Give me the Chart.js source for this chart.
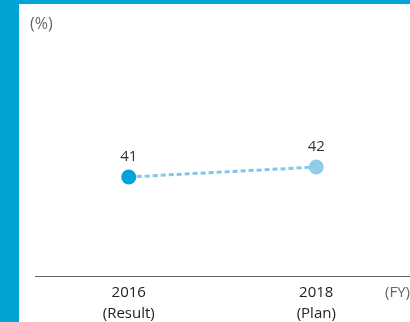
<!DOCTYPE html>
<html>
<head>
<meta charset="utf-8">
<script src="https://cdn.jsdelivr.net/npm/chart.js@4"></script>
<style>
  html, body { margin: 0; padding: 0; }
  body { width: 410px; height: 322px; background: #00A5D6; position: relative; overflow: hidden; }
  #wrap { position: absolute; left: 19px; top: 4px; width: 391px; height: 318px; background: #fff; overflow: hidden; }
</style>
</head>
<body>
<div id="wrap"><canvas id="myChart" width="391" height="326"></canvas></div>
<script>
const categories = [["2016", "(Result)"], ["2018", "(Plan)"]];
const values = [41, 42];
const pointColors = ["#00A2D7", "#8FCDEB"];
const unitLabel = "(%)";
const axisUnit = "(FY)";

// labels above points + unit texts
const textPlugin = {
  id: "texts",
  afterDatasetsDraw(chart) {
    const ctx = chart.ctx;
    const meta = chart.getDatasetMeta(0);
    ctx.save();
    ctx.font = "15px 'Open Sans', sans-serif";
    ctx.fillStyle = "#333";
    ctx.textAlign = "center";
    ctx.textBaseline = "bottom";
    meta.data.forEach((pt, i) => {
      ctx.fillText(values[i], pt.x, pt.y - 13);
    });
    ctx.fillStyle = "#666";
    ctx.textAlign = "left";
    ctx.textBaseline = "middle";
    ctx.font = "16px 'Open Sans', sans-serif";
    ctx.fillText(unitLabel, 11, 20);
    const area = chart.chartArea;
    ctx.font = "15px 'Open Sans', sans-serif";
    ctx.textAlign = "right";
    ctx.fillText(axisUnit, chart.width, area.bottom + 17);
    ctx.restore();
  }
};

new Chart(document.getElementById("myChart").getContext("2d"), {
  type: "line",
  data: {
    labels: categories,
    datasets: [{
      data: values,
      borderColor: "#7FC8E9",
      borderWidth: 3,
      borderDash: [5, 3],
      pointBackgroundColor: pointColors,
      pointBorderWidth: 0,
      pointRadius: 7.5,
      tension: 0
    }]
  },
  options: {
    responsive: false,
    animation: false,
    layout: { autoPadding: false, padding: { left: 16, right: 0, top: 40, bottom: 0 } },
    plugins: { legend: { display: false }, tooltip: { enabled: false } },
    scales: {
      x: {
        offset: true,
        grid: { display: false, drawTicks: false },
        border: { color: "#666", width: 1 },
        ticks: {
          color: "#222",
          font: { family: "'Open Sans', sans-serif", size: 15, lineHeight: 1.4 },
          padding: 6,
          maxRotation: 0
        }
      },
      y: {
        display: false,
        min: 31.1,
        max: 54.3
      }
    }
  },
  plugins: [textPlugin]
});
</script>
</body>
</html>
